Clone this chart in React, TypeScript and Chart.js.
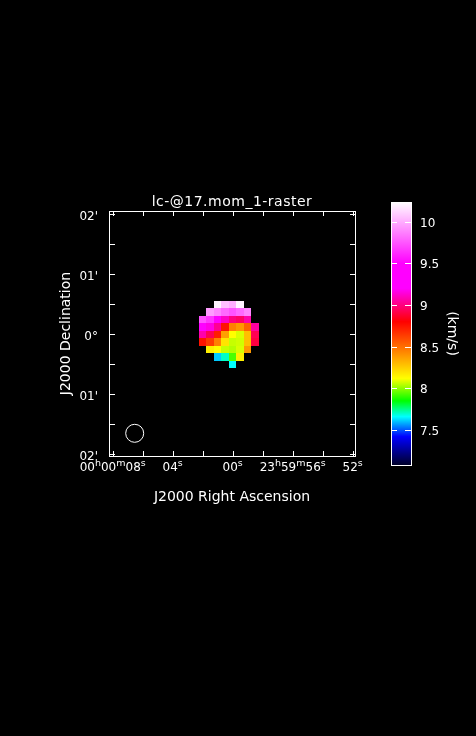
import { useEffect, useRef } from "react";
import { Chart, registerables } from "chart.js";
Chart.register(...registerables);

const FONT = "DejaVu Sans";
const TITLE = "lc-@17.mom_1-raster";
const X_TITLE = "J2000 Right Ascension";
const Y_TITLE = "J2000 Declination";
const CB_TITLE = "(km/s)";

// raster columns: RA offset (arcsec, east positive), left to right
const colRaOffsets = [30, 22.5, 15, 7.5, 0, -7.5, -15, -22.5];
// raster rows: Dec offset (arcsec), top to bottom
const rowDecOffsets = [30, 22.5, 15, 7.5, 0, -7.5, -15, -22.5, -30];
const cellSize = 7.5;
// moment-1 velocity (km/s) per row, null = blanked
const velocityRows: (number | null)[][] = [
  [null, null, 10.2, 10.05, 10.0, 10.2, null, null],
  [null, 9.95, 9.88, 9.8, 9.74, 9.8, 9.88, null],
  [9.74, 9.65, 9.4, 9.11, 9.0, 8.96, 9.07, null],
  [9.3, 9.16, 9.03, 8.75, 8.45, 8.39, 8.53, 9.05],
  [9.07, 8.93, 8.72, 8.37, 8.12, 8.08, 8.29, 8.93],
  [8.75, 8.64, 8.45, 8.19, 8.06, 8.07, 8.29, 8.9],
  [null, 8.16, 8.12, 8.06, 8.04, 8.08, 8.39, null],
  [null, null, 7.61, 7.7, 7.93, 8.16, null, null],
  [null, null, null, null, 7.66, null, null, null],
];

// axes (arcsec offsets)
const raMin = -122.3;
const raMax = 123.7;
const decMin = -121.7;
const decMax = 123.3;
const raTickValues = [120, 90, 60, 30, 0, -30, -60, -90, -120];
const raLabelValues = [120, 60, 0, -60, -120];
const raLabels = ["00h00m08s", "04s", "00s", "23h59m56s", "52s"];
const decTickValues = [120, 90, 60, 30, 0, -30, -60, -90, -120];
const decLabelValues = [120, 60, 0, -60, -120];
const decLabels = ["02'", "01'", "0°", "01'", "02'"];

// restoring beam
const beamRa = 98;
const beamDec = -99;
const beamDiameter = 18;

// colour bar
const cbMin = 7.08;
const cbMax = 10.236;
const cbTickValues = [7.5, 8, 8.5, 9, 9.5, 10];
const cbTickLabels = ["7.5", "8", "8.5", "9", "9.5", "10"];

const cmapValues = [7.08, 7.42, 7.66, 7.85, 8.12, 8.5, 8.8, 9.2, 9.5, 10.236];
const cmapColors = [
  [0, 0, 40], [0, 0, 255], [0, 255, 255], [0, 255, 0], [255, 255, 0],
  [255, 110, 0], [255, 0, 0], [255, 0, 255], [255, 0, 255], [255, 255, 255],
];

function colorFor(v: number): string {
  if (v <= cmapValues[0]) return `rgb(${cmapColors[0].join(",")})`;
  for (let i = 1; i < cmapValues.length; i++) {
    if (v <= cmapValues[i]) {
      const t = (v - cmapValues[i - 1]) / (cmapValues[i] - cmapValues[i - 1]);
      const a = cmapColors[i - 1], b = cmapColors[i];
      const c = a.map((x, k) => Math.round(x + (b[k] - x) * t));
      return `rgb(${c.join(",")})`;
    }
  }
  return `rgb(${cmapColors[cmapColors.length - 1].join(",")})`;
}

const cells: { x: number; y: number; v: number }[] = [];
velocityRows.forEach((row, r) =>
  row.forEach((v, c) => {
    if (v !== null) cells.push({ x: colRaOffsets[c], y: rowDecOffsets[r], v });
  })
);

const framePlugin = {
  id: "frame",
  beforeDatasetsDraw(chart: any) {
    const { ctx, scales } = chart;
    const xs = scales.x, ys = scales.y;
    ctx.save();
    const data = chart.data.datasets[0].data as any[];
    for (const p of data) {
      const x0 = Math.round(xs.getPixelForValue(p.x + cellSize / 2));
      const x1 = Math.round(xs.getPixelForValue(p.x - cellSize / 2));
      const y0 = Math.round(ys.getPixelForValue(p.y + cellSize / 2));
      const y1 = Math.round(ys.getPixelForValue(p.y - cellSize / 2));
      ctx.fillStyle = colorFor(p.v);
      ctx.fillRect(Math.min(x0, x1), Math.min(y0, y1), Math.abs(x1 - x0), Math.abs(y1 - y0));
    }
    ctx.restore();
  },
  afterDraw(chart: any) {
    const { ctx, chartArea: a, scales } = chart;
    const xs = scales.x, ys = scales.y;
    ctx.save();
    ctx.strokeStyle = "#fff";
    ctx.fillStyle = "#fff";
    ctx.lineWidth = 1;
    ctx.strokeRect(a.left + 0.5, a.top + 0.5, a.right - a.left, a.bottom - a.top);
    const tl = 5;
    ctx.beginPath();
    for (const v of raTickValues) {
      const px = Math.round(xs.getPixelForValue(v)) + 0.5;
      ctx.moveTo(px, a.bottom);
      ctx.lineTo(px, a.bottom - tl);
      ctx.moveTo(px, a.top);
      ctx.lineTo(px, a.top + tl);
    }
    for (const v of decTickValues) {
      const py = Math.round(ys.getPixelForValue(v)) + 0.5;
      ctx.moveTo(a.left, py);
      ctx.lineTo(a.left + tl + 1, py);
      ctx.moveTo(a.right, py);
      ctx.lineTo(a.right - tl, py);
    }
    ctx.stroke();
    // beam
    const bx = xs.getPixelForValue(beamRa);
    const by = ys.getPixelForValue(beamDec);
    const br = Math.abs(xs.getPixelForValue(beamRa + beamDiameter / 2) - bx);
    ctx.beginPath();
    ctx.arc(bx, by, br, 0, Math.PI * 2);
    ctx.stroke();

    // RA tick labels with superscript h/m/s
    const mainFont = `12px "${FONT}"`;
    const supFont = `9.5px "${FONT}"`;
    ctx.textBaseline = "alphabetic";
    ctx.textAlign = "left";
    raLabelValues.forEach((v, i) => {
      const parts = raLabels[i].split(/([hms])/).filter((s) => s.length > 0);
      const widths = parts.map((p) => {
        ctx.font = /^[hms]$/.test(p) ? supFont : mainFont;
        return ctx.measureText(p).width;
      });
      const total = widths.reduce((s, w) => s + w, 0);
      let x = xs.getPixelForValue(v) - total / 2;
      parts.forEach((p, k) => {
        const sup = /^[hms]$/.test(p);
        ctx.font = sup ? supFont : mainFont;
        ctx.fillText(p, x, a.bottom + (sup ? 9.5 : 14.5));
        x += widths[k];
      });
    });

    // title
    ctx.font = `14px "${FONT}"`;
    (ctx as any).letterSpacing = "0.5px";
    ctx.textAlign = "center";
    ctx.fillText(TITLE, (a.left + a.right) / 2, a.top - 5);
    ctx.restore();
  },
};

const cbPlugin = {
  id: "cbframe",
  afterDatasetsDraw(chart: any) {
    const { ctx, chartArea: a, scales } = chart;
    const ys = scales.y;
    ctx.save();
    ctx.strokeStyle = "#fff";
    ctx.lineWidth = 1;
    ctx.beginPath();
    for (const v of cbTickValues) {
      const py = Math.round(ys.getPixelForValue(v)) + 0.5;
      ctx.moveTo(a.left, py);
      ctx.lineTo(a.left + 6, py);
      ctx.moveTo(a.right, py);
      ctx.lineTo(a.right - 6, py);
    }
    ctx.stroke();
    ctx.strokeRect(a.left + 0.5, a.top + 0.5, a.right - a.left, a.bottom - a.top);
    ctx.restore();
  },
};

export default function App() {
  const mainRef = useRef<HTMLCanvasElement>(null);
  const cbRef = useRef<HTMLCanvasElement>(null);

  useEffect(() => {
    const titleFont = { family: FONT, size: 14, weight: "normal" as const, lineHeight: 1.2 };
    const tickFont = { family: FONT, size: 12, weight: "normal" as const, lineHeight: 1.2 };
    const main = new Chart(mainRef.current!, {
      type: "scatter",
      data: {
        datasets: [{ data: cells as any, pointRadius: 0, pointHoverRadius: 0 }],
      },
      options: {
        animation: false,
        responsive: false,
        events: [],
        layout: { padding: { left: 50, right: 121, top: 211, bottom: 230 } },
        plugins: {
          legend: { display: false },
          tooltip: { enabled: false },
          title: { display: false },
        },
        scales: {
          x: {
            type: "linear",
            reverse: true,
            min: raMin,
            max: raMax,
            afterBuildTicks: (s: any) => { s.ticks = raTickValues.map((v) => ({ value: v })); },
            afterFit: (s: any) => { s.height = 50; s.paddingLeft = 0; s.paddingRight = 0; },
            ticks: { display: false, autoSkip: false, maxRotation: 0 },
            grid: { display: false, drawTicks: false },
            border: { display: false },
            title: { display: true, text: X_TITLE, color: "#fff", font: titleFont, padding: { top: 0, bottom: 0 } },
          },
          y: {
            type: "linear",
            min: decMin,
            max: decMax,
            afterBuildTicks: (s: any) => { s.ticks = decTickValues.map((v) => ({ value: v })); },
            afterFit: (s: any) => { s.width = 59; s.paddingTop = 0; s.paddingBottom = 0; },
            ticks: {
              color: "#fff",
              font: tickFont,
              padding: 11,
              labelOffset: 3,
              autoSkip: false,
              callback: (v: any) => {
                const i = decLabelValues.indexOf(Number(v));
                return i >= 0 ? decLabels[i] : "";
              },
            },
            grid: { display: false, drawTicks: false },
            border: { display: false },
            title: { display: true, text: Y_TITLE, color: "#fff", font: titleFont, padding: { top: 7.5, bottom: 0 } },
          },
        },
      },
      plugins: [framePlugin],
    });

    const cb = new Chart(cbRef.current!, {
      type: "bar",
      data: {
        labels: ["v"],
        datasets: [
          {
            data: [[cbMin, cbMax]] as any,
            borderWidth: 0,
            barPercentage: 1,
            categoryPercentage: 1,
            backgroundColor: (c: any) => {
              const chart = c.chart;
              const ys = chart.scales.y;
              if (!chart.chartArea || !ys) return "#000";
              const g = chart.ctx.createLinearGradient(0, ys.getPixelForValue(cbMin), 0, ys.getPixelForValue(cbMax));
              cmapValues.forEach((v, i) => {
                const t = Math.min(1, Math.max(0, (v - cbMin) / (cbMax - cbMin)));
                g.addColorStop(t, `rgb(${cmapColors[i].join(",")})`);
              });
              return g;
            },
          },
        ],
      },
      options: {
        animation: false,
        responsive: false,
        events: [],
        layout: { padding: { left: 10, right: 0, top: 10, bottom: 10 } },
        plugins: { legend: { display: false }, tooltip: { enabled: false }, title: { display: false } },
        scales: {
          x: { display: false },
          y: {
            position: "right",
            min: cbMin,
            max: cbMax,
            afterBuildTicks: (s: any) => { s.ticks = cbTickValues.map((v) => ({ value: v })); },
            afterFit: (s: any) => { s.width = 65; s.paddingTop = 0; s.paddingBottom = 0; },
            ticks: {
              color: "#fff",
              font: tickFont,
              padding: 9,
              labelOffset: 2,
              autoSkip: false,
              callback: (v: any) => {
                const i = cbTickValues.indexOf(Number(v));
                return i >= 0 ? cbTickLabels[i] : "";
              },
            },
            grid: { display: false, drawTicks: false },
            border: { display: false },
            title: { display: true, text: CB_TITLE, color: "#fff", font: titleFont, padding: { top: 16, bottom: 0 } },
          },
        },
      },
      plugins: [cbPlugin],
    });

    return () => {
      main.destroy();
      cb.destroy();
    };
  }, []);

  return (
    <div style={{ position: "fixed", left: 0, top: 0, width: 476, height: 736, background: "#000", overflow: "hidden" }}>
      <canvas ref={mainRef} width={476} height={736} style={{ position: "absolute", left: 0, top: 0 }} />
      <canvas ref={cbRef} width={95} height={283} style={{ position: "absolute", left: 381, top: 192 }} />
    </div>
  );
}
